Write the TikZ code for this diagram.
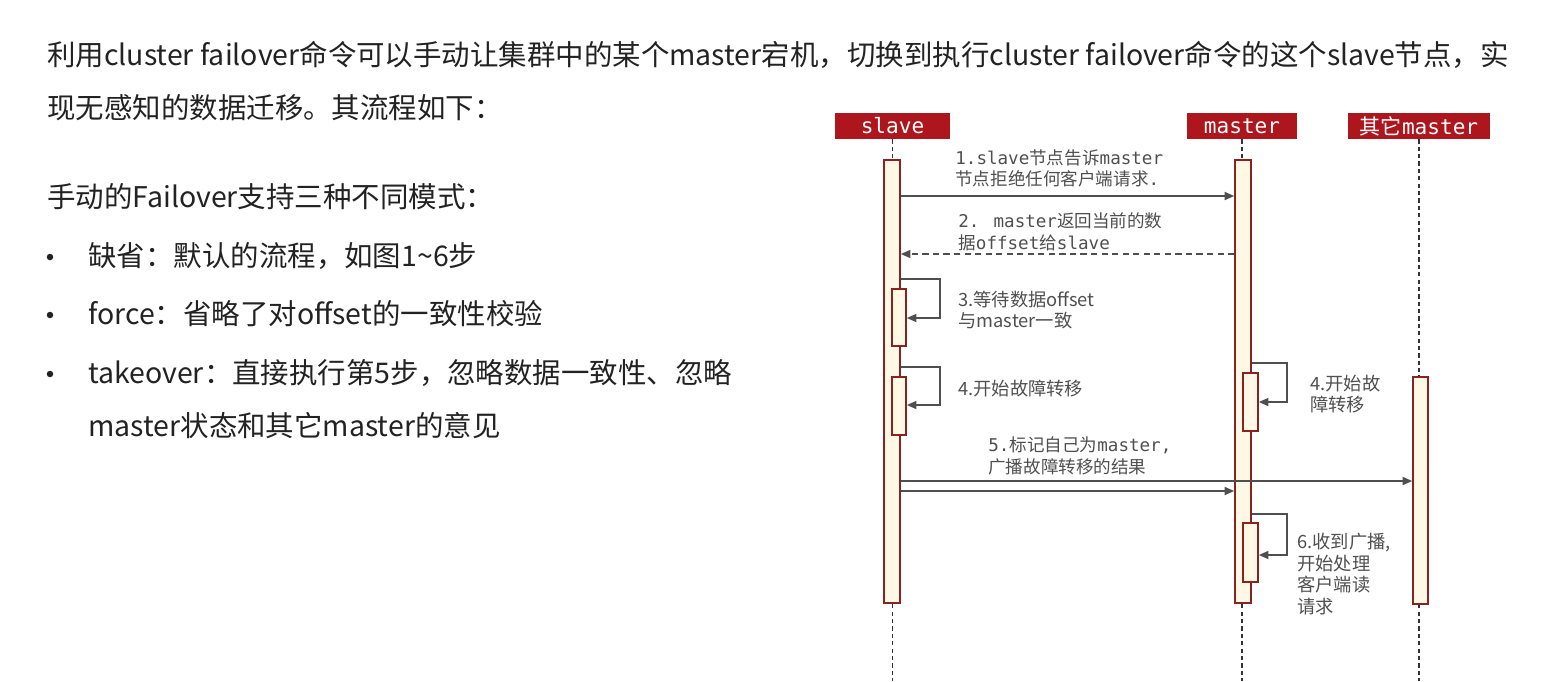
\documentclass[tikz,border=0pt]{standalone}
\usepackage{fontspec}
\setmainfont{Noto Sans CJK SC}
\newfontfamily\cjk{Noto Sans CJK SC}
\newfontfamily\mono{DejaVu Sans Mono}
\usetikzlibrary{fit,arrows.meta}
\definecolor{hdrred}{HTML}{AE161E}
\definecolor{barfill}{HTML}{FFF8E4}
\definecolor{barline}{HTML}{8A2222}
\definecolor{msggray}{HTML}{4F4F4F}
\definecolor{txtgray}{HTML}{222222}
\tikzset{
  para/.style={anchor=west, inner sep=0pt, text=txtgray, font=\fontsize{16.2}{19}\selectfont},
  dotmark/.style={circle, fill=txtgray, inner sep=0pt, minimum size=0.13cm},
  head/.style={fill=hdrred, text=white, inner sep=0pt, minimum height=0.52cm, font=\mono\fontsize{12}{14}\selectfont},
  life/.style={black!80, line width=0.6pt, dash pattern=on 2.4pt off 1.8pt},
  bar/.style={draw=barline, fill=barfill, inner sep=0pt, line width=0.9pt},
  msg/.style={draw=msggray, line width=0.9pt, -{Triangle[length=5.5pt,width=4.6pt]}},
  monolbl/.style={anchor=west, inner sep=0pt, align=left, text=msggray, font=\mono\fontsize{10}{12.3}\selectfont},
  sanslbl/.style={anchor=west, inner sep=0pt, align=left, text=msggray, font=\cjk\fontsize{10.4}{12.3}\selectfont}
}
\begin{document}
\begin{tikzpicture}[x=0.02cm, y=-0.02cm]
\useasboundingbox (0,0) rectangle (1559,681);
\coordinate (bottom) at (0,681);

% text on the left
\node[para] (p1) at (47,55) {利用cluster failover命令可以手动让集群中的某个master宕机，切换到执行cluster failover命令的这个slave节点，实};
\node[para] (p2) at (47,108) {现无感知的数据迁移。其流程如下：};
\node[para] (p3) at (47,197) {手动的Failover支持三种不同模式：};
\node[dotmark] (dot1) at (50,257) {};
\node[para] (b1) at (88,256) {缺省：默认的流程，如图1\textasciitilde6步};
\node[dotmark] (dot2) at (50,315) {};
\node[para] (b2) at (88,314) {force：省略了对offset的一致性校验};
\node[dotmark] (dot3) at (50,374) {};
\node[para] (b3) at (88,373) {takeover：直接执行第5步，忽略数据一致性、忽略};
\node[para] (b3b) at (88,426) {master状态和其它master的意见};

% participants
\node[head, minimum width=2.3cm] (slavehd) at (892.5,126) {slave};
\node[head, minimum width=2.2cm] (masterhd) at (1242,126) {master};
\node[head, minimum width=2.84cm] (otherhd) at (1419,126) {{\cjk 其它}master};

\draw[life] (slavehd.south) -- (slavehd.south |- bottom);
\draw[life] (masterhd.south) -- (masterhd.south |- bottom);
\draw[life] (otherhd.south) -- (otherhd.south |- bottom);

% activations
\node[bar, fit={(884,160) (900,603)}] (sbar) {};
\node[bar, fit={(1235,160) (1251,603)}] (mbar) {};
\node[bar, fit={(1413,377) (1428,604)}] (obar) {};
\node[bar, fit={(892,289) (906,346)}] (s3) {};
\node[bar, fit={(892,377) (906,435)}] (s4) {};
\node[bar, fit={(1243,373) (1258,431)}] (m4) {};
\node[bar, fit={(1243,523) (1258,582)}] (m6) {};

% messages
\draw[msg] (sbar.east |- 0,196) -- (mbar.west |- 0,196);
\draw[msg, dash pattern=on 3.5pt off 2.5pt] (mbar.west |- 0,254) -- (sbar.east |- 0,254);
\draw[msg] (sbar.east |- 0,279) -| (940,318) -- (s3.east |- 0,318);
\draw[msg] (sbar.east |- 0,367) -| (940,405) -- (s4.east |- 0,405);
\draw[msg] (mbar.east |- 0,363) -| (1287,402) -- (m4.east |- 0,402);
\draw[msg] (sbar.east |- 0,481) -- (obar.west |- 0,481);
\draw[msg] (sbar.east |- 0,491) -- (mbar.west |- 0,491);
\draw[msg] (mbar.east |- 0,514) -| (1287,555) -- (m6.east |- 0,555);

% labels
\node[monolbl] (l1) at (955,168.5) {1.slave{\cjk 节点告诉}master\\{\cjk 节点拒绝任何客户端请求}.};
\node[monolbl] (l2) at (958,231.5) {2. master{\cjk 返回当前的数}\\{\cjk 据}offset{\cjk 给}slave};
\node[sanslbl] (l3) at (958,310) {3.等待数据offset\\与master一致};
\node[sanslbl] (l4) at (958,389) {4.开始故障转移};
\node[sanslbl] (l4m) at (1310,394) {4.开始故\\障转移};
\node[monolbl] (l5) at (988,456) {5.{\cjk 标记自己为}master,\\{\cjk 广播故障转移的结果}};
\node[sanslbl] (l6) at (1297,574) {6.收到广播,\\开始处理\\客户端读\\请求};
\end{tikzpicture}
\end{document}
